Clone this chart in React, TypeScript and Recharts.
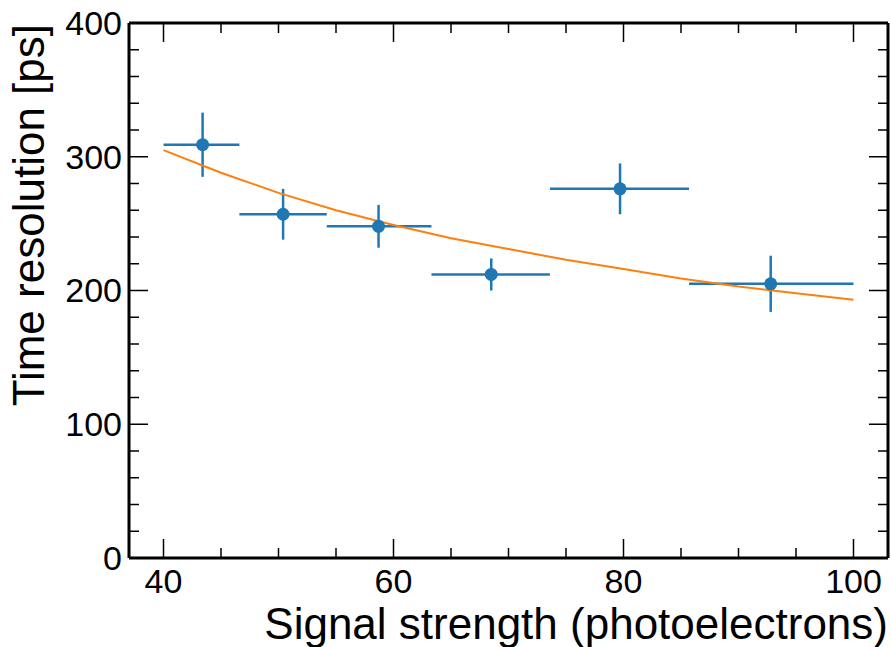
import React from 'react';
import { ComposedChart, Scatter, XAxis, YAxis, ErrorBar, Label } from 'recharts';

// ---- data ----
const binEdges = [40, 46.6, 54.2, 63.3, 73.6, 85.7, 100];
const pointX = [43.4, 50.4, 58.7, 68.5, 79.7, 92.8];
const pointY = [309, 257, 248, 212, 276, 205];
const pointYErr = [24, 19, 16, 12, 19, 21];

const fitX = [40, 45, 50, 55, 60, 65, 70, 75, 80, 85, 90, 95, 100];
const fitY = [305, 288, 273, 260, 249, 239, 231, 223, 216, 209, 203, 198, 193];

const xTicks = [40, 45, 50, 55, 60, 65, 70, 75, 80, 85, 90, 95, 100];
const xMajor = [40, 60, 80, 100];
const yTicks = [0, 20, 40, 60, 80, 100, 120, 140, 160, 180, 200, 220, 240, 260, 280, 300, 320, 340, 360, 380, 400];
const yMajor = [0, 100, 200, 300, 400];

const xLabel = 'Signal strength (photoelectrons)';
const yLabel = 'Time resolution [ps]';

const points = pointX.map((x, i) => ({
  x,
  y: pointY[i],
  xerr: [x - binEdges[i], binEdges[i + 1] - x],
  yerr: pointYErr[i],
}));
const fit = fitX.map((x, i) => ({ x, y: fitY[i] }));

const FONT = '"Liberation Sans", Helvetica, Arial, sans-serif';
const BLUE = '#1f77b4';
const ORANGE = '#ff7f0e';
const MAJ = 19;
const MIN = 10;
const TICK_W = 1.5;
const TICK_FS = 34;

const BottomTick = (props: any) => {
  const { x, y, payload } = props;
  const v = payload.value;
  const major = xMajor.includes(v);
  return (
    <g>
      <line x1={x} x2={x} y1={y} y2={y - (major ? MAJ : MIN)} stroke="#000" strokeWidth={TICK_W} />
      {major && (
        <text x={x} y={y + 35} textAnchor="middle" fontSize={TICK_FS} fontFamily={FONT} fill="#000">
          {v}
        </text>
      )}
    </g>
  );
};

const TopTick = (props: any) => {
  const { x, y, payload } = props;
  const major = xMajor.includes(payload.value);
  return <line x1={x} x2={x} y1={y} y2={y + (major ? MAJ : MIN)} stroke="#000" strokeWidth={TICK_W} />;
};

const LeftTick = (props: any) => {
  const { x, y, payload } = props;
  const v = payload.value;
  const major = yMajor.includes(v);
  return (
    <g>
      <line x1={x} x2={x + (major ? MAJ : MIN)} y1={y} y2={y} stroke="#000" strokeWidth={TICK_W} />
      {major && (
        <text x={x - 7} y={y} dy="0.35em" textAnchor="end" fontSize={TICK_FS} fontFamily={FONT} fill="#000">
          {v}
        </text>
      )}
    </g>
  );
};

const RightTick = (props: any) => {
  const { x, y, payload } = props;
  const major = yMajor.includes(payload.value);
  return <line x1={x} x2={x - (major ? MAJ : MIN)} y1={y} y2={y} stroke="#000" strokeWidth={TICK_W} />;
};

const XLabelContent = (props: any) => {
  const vb = props.viewBox || {};
  return (
    <text x={vb.x + vb.width} y={vb.y + 81} textAnchor="end" fontSize={44} fontFamily={FONT} fill="#000">
      {xLabel}
    </text>
  );
};

const YLabelContent = (props: any) => {
  const vb = props.viewBox || {};
  const tx = 44;
  const ty = vb.y + 1;
  return (
    <text
      x={tx}
      y={ty}
      transform={`rotate(-90, ${tx}, ${ty})`}
      textAnchor="end"
      fontSize={44}
      fontFamily={FONT}
      fill="#000"
    >
      {yLabel}
    </text>
  );
};

const Dot = (props: any) => {
  const { cx, cy } = props;
  return <circle cx={cx} cy={cy} r={6.5} fill={BLUE} />;
};
const NoDot = () => <g />;

const axisLine = { stroke: '#000', strokeWidth: 3 };

export default function App() {
  return (
    <div style={{ position: 'absolute', left: 0, top: 0, background: '#fff' }}>
      <ComposedChart width={891} height={647} margin={{ top: 22, right: 2, left: 0, bottom: 0 }}>
        <XAxis
          xAxisId="b"
          type="number"
          dataKey="x"
          orientation="bottom"
          domain={[37, 103]}
          allowDataOverflow
          ticks={xTicks}
          interval={0}
          height={89}
          tickSize={0}
          tickMargin={0}
          tickLine={false}
          axisLine={axisLine}
          tick={<BottomTick />}
        >
          <Label content={<XLabelContent />} />
        </XAxis>
        <XAxis
          xAxisId="t"
          type="number"
          dataKey="x"
          orientation="top"
          domain={[37, 103]}
          allowDataOverflow
          ticks={xTicks}
          interval={0}
          height={1}
          tickSize={0}
          tickMargin={0}
          tickLine={false}
          axisLine={axisLine}
          tick={<TopTick />}
        />
        <YAxis
          yAxisId="l"
          type="number"
          dataKey="y"
          orientation="left"
          domain={[0, 400]}
          allowDataOverflow
          ticks={yTicks}
          interval={0}
          width={129}
          tickSize={0}
          tickMargin={0}
          tickLine={false}
          axisLine={axisLine}
          tick={<LeftTick />}
        >
          <Label content={<YLabelContent />} />
        </YAxis>
        <YAxis
          yAxisId="r"
          type="number"
          dataKey="y"
          orientation="right"
          domain={[0, 400]}
          allowDataOverflow
          ticks={yTicks}
          interval={0}
          width={1}
          tickSize={0}
          tickMargin={0}
          tickLine={false}
          axisLine={axisLine}
          tick={<RightTick />}
        />
        <Scatter
          data={fit}
          xAxisId="t"
          yAxisId="r"
          line={{ stroke: ORANGE, strokeWidth: 2 }}
          lineType="joint"
          shape={<NoDot />}
          isAnimationActive={false}
        />
        <Scatter data={points} xAxisId="b" yAxisId="l" shape={<Dot />} isAnimationActive={false}>
          <ErrorBar dataKey="xerr" direction="x" width={0} stroke={BLUE} strokeWidth={2.5} />
          <ErrorBar dataKey="yerr" direction="y" width={0} stroke={BLUE} strokeWidth={2.5} />
        </Scatter>
      </ComposedChart>
    </div>
  );
}
